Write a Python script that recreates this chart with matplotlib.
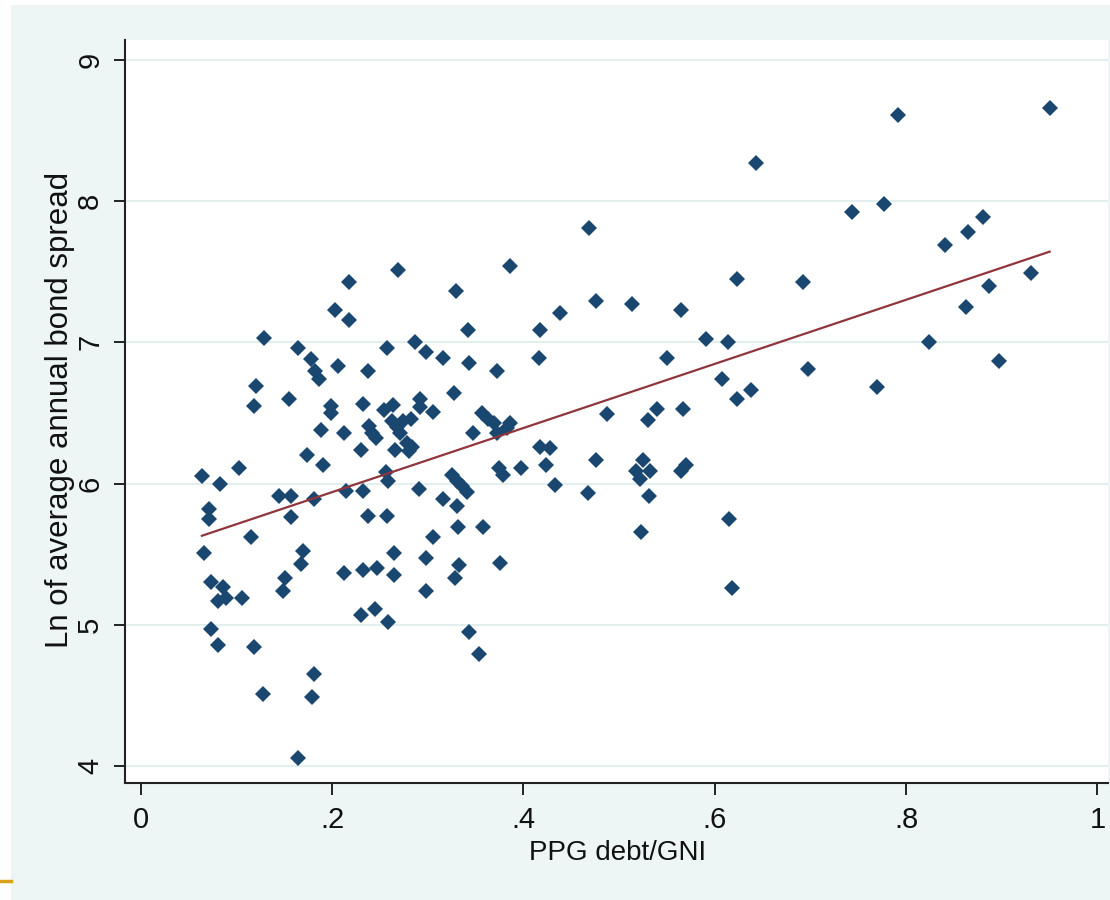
import matplotlib
matplotlib.use('Agg')
import matplotlib.pyplot as plt
from matplotlib.patches import Rectangle
from matplotlib.lines import Line2D

# PPG debt / GNI (x) and log of average annual bond spread (y)
debt_gni = [
    0.064, 0.071, 0.071, 0.066, 0.083, 0.074, 0.086, 0.081, 0.089, 0.106,
    0.074, 0.081, 0.103, 0.115, 0.118, 0.120, 0.118, 0.128, 0.129, 0.145,
    0.157, 0.157, 0.151, 0.149, 0.155, 0.164, 0.164, 0.170, 0.168, 0.174,
    0.178, 0.182, 0.186, 0.181, 0.181, 0.179, 0.188, 0.191, 0.199, 0.199,
    0.203, 0.206, 0.218, 0.218, 0.2125, 0.215, 0.2125, 0.2325, 0.230, 0.232,
    0.238, 0.2385, 0.242, 0.2455, 0.238, 0.232, 0.247, 0.230, 0.245, 0.257,
    0.254, 0.264, 0.2575, 0.256, 0.259, 0.259, 0.2646, 0.2646, 0.269, 0.263,
    0.268, 0.274, 0.282, 0.2705, 0.2785, 0.284, 0.266, 0.280, 0.2865, 0.292,
    0.292, 0.2986, 0.305, 0.291, 0.2986, 0.2986, 0.306, 0.316, 0.316, 0.327,
    0.330, 0.331, 0.325, 0.331, 0.336, 0.341, 0.332, 0.333, 0.328, 0.343,
    0.342, 0.343, 0.347, 0.354, 0.357, 0.3635, 0.369, 0.358, 0.372, 0.372,
    0.386, 0.383, 0.374, 0.379, 0.376, 0.386, 0.397, 0.417, 0.416, 0.417,
    0.428, 0.424, 0.433, 0.438, 0.467, 0.469, 0.476, 0.476, 0.487, 0.5135,
    0.518, 0.525, 0.532, 0.5215, 0.531, 0.5226, 0.530, 0.540, 0.550, 0.565,
    0.567, 0.565, 0.5695, 0.591, 0.6135, 0.608, 0.615, 0.618, 0.623, 0.623,
    0.638, 0.643, 0.692, 0.697, 0.743, 0.770, 0.777, 0.792, 0.824, 0.841,
    0.863, 0.865, 0.880, 0.887, 0.897, 0.931, 0.950,
]
ln_spread = [
    6.05, 5.82, 5.75, 5.51, 6.00, 5.30, 5.27, 5.17, 5.19, 5.19,
    4.97, 4.86, 6.11, 5.62, 4.84, 6.69, 6.55, 4.51, 7.03, 5.91,
    5.91, 5.76, 5.33, 5.24, 6.60, 6.96, 4.06, 5.52, 5.43, 6.20,
    6.88, 6.80, 6.74, 5.89, 4.65, 4.49, 6.38, 6.13, 6.55, 6.50,
    7.23, 6.83, 7.43, 7.16, 6.36, 5.95, 5.37, 5.95, 6.24, 6.56,
    6.80, 6.41, 6.36, 6.32, 5.77, 5.39, 5.40, 5.07, 5.11, 6.96,
    6.52, 6.555, 5.77, 6.08, 6.02, 5.02, 5.51, 5.35, 7.51, 6.44,
    6.40, 6.44, 6.46, 6.36, 6.29, 6.26, 6.24, 6.23, 7.00, 6.60,
    6.54, 6.93, 6.51, 5.96, 5.47, 5.24, 5.62, 6.89, 5.89, 6.64,
    7.36, 5.84, 6.06, 6.02, 5.98, 5.94, 5.69, 5.42, 5.33, 4.95,
    7.09, 6.85, 6.36, 4.79, 6.50, 6.46, 6.43, 5.69, 6.80, 6.36,
    6.43, 6.39, 6.11, 6.06, 5.44, 7.54, 6.11, 7.09, 6.89, 6.26,
    6.25, 6.13, 5.99, 7.21, 5.93, 7.81, 7.29, 6.17, 6.49, 7.27,
    6.09, 6.17, 6.09, 6.03, 5.91, 5.66, 6.45, 6.53, 6.89, 7.23,
    6.53, 6.09, 6.13, 7.02, 7.00, 6.74, 5.75, 5.26, 7.45, 6.60,
    6.66, 8.27, 7.43, 6.81, 7.92, 6.68, 7.98, 8.61, 7.00, 7.69,
    7.25, 7.78, 7.89, 7.40, 6.87, 7.49, 8.66,
]

# linear fit line
fit_intercept = 5.485
fit_slope = 2.27

x_ticks = [0, 0.2, 0.4, 0.6, 0.8, 1]
x_tick_labels = ['0', '.2', '.4', '.6', '.8', '1']
y_ticks = [4, 5, 6, 7, 8, 9]

W, H = 1110, 900
plt.rcParams['font.family'] = ['Liberation Sans', 'DejaVu Sans']

fig = plt.figure(figsize=(W / 100, H / 100), dpi=100)
fig.patch.set_facecolor('white')

# light bluish-grey graph region (Stata s2color look) and the slide's orange rule
fig.add_artist(Rectangle((11 / W, 0), 1 - 11 / W, 1 - 5 / H, transform=fig.transFigure,
                         facecolor='#EDF5F5', edgecolor='none', zorder=0))
fig.add_artist(Line2D([0, 11 / W], [1 - 881 / H] * 2, transform=fig.transFigure,
                      color='#D9A21B', lw=2.5))

ax = fig.add_axes([125 / W, 1 - 783 / H, (1108 - 125) / W, (783 - 40) / H])
ax.set_facecolor('white')
ax.set_xlim(-0.0164, 1.011)
ax.set_ylim(3.88, 9.14)

ax.plot(debt_gni, ln_spread, linestyle='none', marker='D', ms=8.3,
        color='#1A476F', mew=0, zorder=3)

x0, x1 = min(debt_gni), max(debt_gni)
ax.plot([x0, x1], [fit_intercept + fit_slope * x0, fit_intercept + fit_slope * x1],
        color='#90353B', lw=1.6, zorder=4)

for side in ['top', 'right']:
    ax.spines[side].set_visible(False)
for side in ['left', 'bottom']:
    ax.spines[side].set_color('#222222')
    ax.spines[side].set_linewidth(1.5)

ax.set_xticks(x_ticks)
ax.set_xticklabels(x_tick_labels)
ax.set_yticks(y_ticks)
ax.tick_params(axis='x', length=8.5, width=1.3, pad=8, labelsize=21, colors='#111111')
ax.tick_params(axis='y', length=8, width=1.3, pad=7, labelsize=21, colors='#111111')
for lab in ax.get_yticklabels():
    lab.set_rotation(90)
    lab.set_va('center')

ax.grid(axis='y', color='#E3EEEE', lw=1.5)
ax.grid(axis='x', visible=False)
ax.set_axisbelow(True)

fig.text(618 / W, 1 - 860 / H, 'PPG debt/GNI', ha='center', va='baseline',
         fontsize=20, color='#111111')
fig.text(60 / W, 1 - 410 / H, 'Ln of average annual bond spread', ha='center',
         va='center', rotation=90, fontsize=22.5, color='#111111')

fig.savefig('out.png', dpi=100, facecolor=fig.get_facecolor())
